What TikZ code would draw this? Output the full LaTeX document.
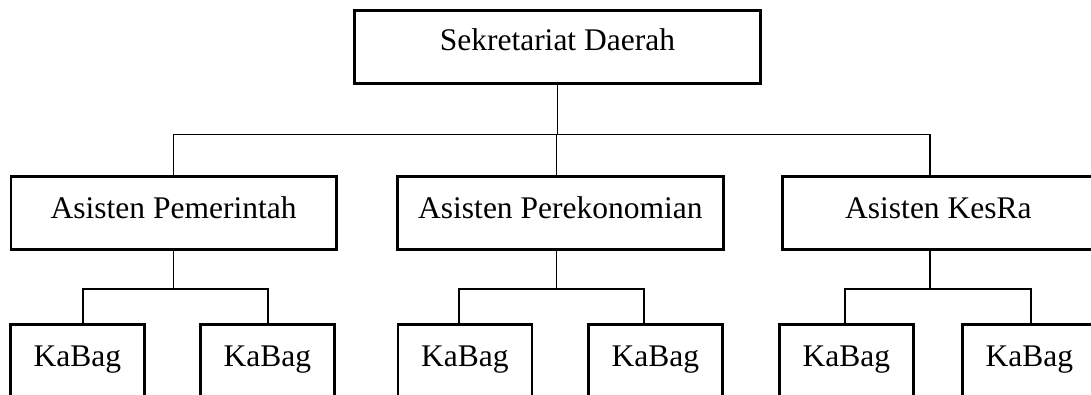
\documentclass[tikz,border=0pt]{standalone}
\usepackage{fontspec}
\setmainfont{Liberation Serif}
\begin{document}
\begin{tikzpicture}[x=1pt,y=-1pt,
  box/.style={draw,line width=2.8pt,inner sep=0pt,anchor=north west,
    font=\fontsize{31.5}{36}\selectfont},
  lvlone/.style={box,text height=40pt,text depth=33pt},
  lvltwo/.style={box,text height=42pt,text depth=31pt},
  lvlthree/.style={box,text height=42pt,text depth=80pt,minimum width=134pt},
  conn/.style={draw,line width=1.1pt}]
\clip (0,0) rectangle (1091,394);
% top
\node[lvlone,minimum width=406pt] (sd) at (353,9) {Sekretariat Daerah};
% level two
\node[lvltwo,minimum width=325.5pt] (ap) at (9.5,175) {Asisten Pemerintah};
\node[lvltwo,minimum width=326pt] (ae) at (396,175) {Asisten Perekonomian};
\node[lvltwo,minimum width=312pt] (ak) at (781,175) {Asisten KesRa};
% level three
\node[lvlthree] (k1) at (9,323) {KaBag};
\node[lvlthree] (k2) at (199,323) {KaBag};
\node[lvlthree] (k3) at (396.5,323) {KaBag};
\node[lvlthree] (k4) at (587,323) {KaBag};
\node[lvlthree] (k5) at (778,323) {KaBag};
\node[lvlthree] (k6) at (961,323) {KaBag};
% bus lines
\coordinate (busa) at (0,134.5);
\coordinate (busb) at (0,289);
% connection points
\coordinate (apt) at (ap.north);
\coordinate (aet) at ([xshift=160.5pt]ae.north west);
\coordinate (akt) at ([xshift=149pt]ak.north west);
\coordinate (aps) at (ap.south);
\coordinate (aes) at ([xshift=160.5pt]ae.south west);
\coordinate (aks) at ([xshift=149pt]ak.south west);
\coordinate (k1t) at ([xshift=74pt]k1.north west);
\coordinate (k2t) at ([xshift=69pt]k2.north west);
\coordinate (k3t) at ([xshift=62.5pt]k3.north west);
\coordinate (k4t) at ([xshift=57pt]k4.north west);
\coordinate (k5t) at ([xshift=67pt]k5.north west);
\coordinate (k6t) at ([xshift=70pt]k6.north west);
% top connectors
\draw[conn] (sd.south) -- (sd.south |- busa);
\draw[conn] (apt) -- (apt |- busa) -- (akt |- busa) -- (akt);
\draw[conn] (aet |- busa) -- (aet);
% level-two connectors
\draw[conn] (aps) -- (aps |- busb);
\draw[conn] (k1t) -- (k1t |- busb) -- (k2t |- busb) -- (k2t);
\draw[conn] (aes) -- (aes |- busb);
\draw[conn] (k3t) -- (k3t |- busb) -- (k4t |- busb) -- (k4t);
\draw[conn] (aks) -- (aks |- busb);
\draw[conn] (k5t) -- (k5t |- busb) -- (k6t |- busb) -- (k6t);
\end{tikzpicture}
\end{document}
